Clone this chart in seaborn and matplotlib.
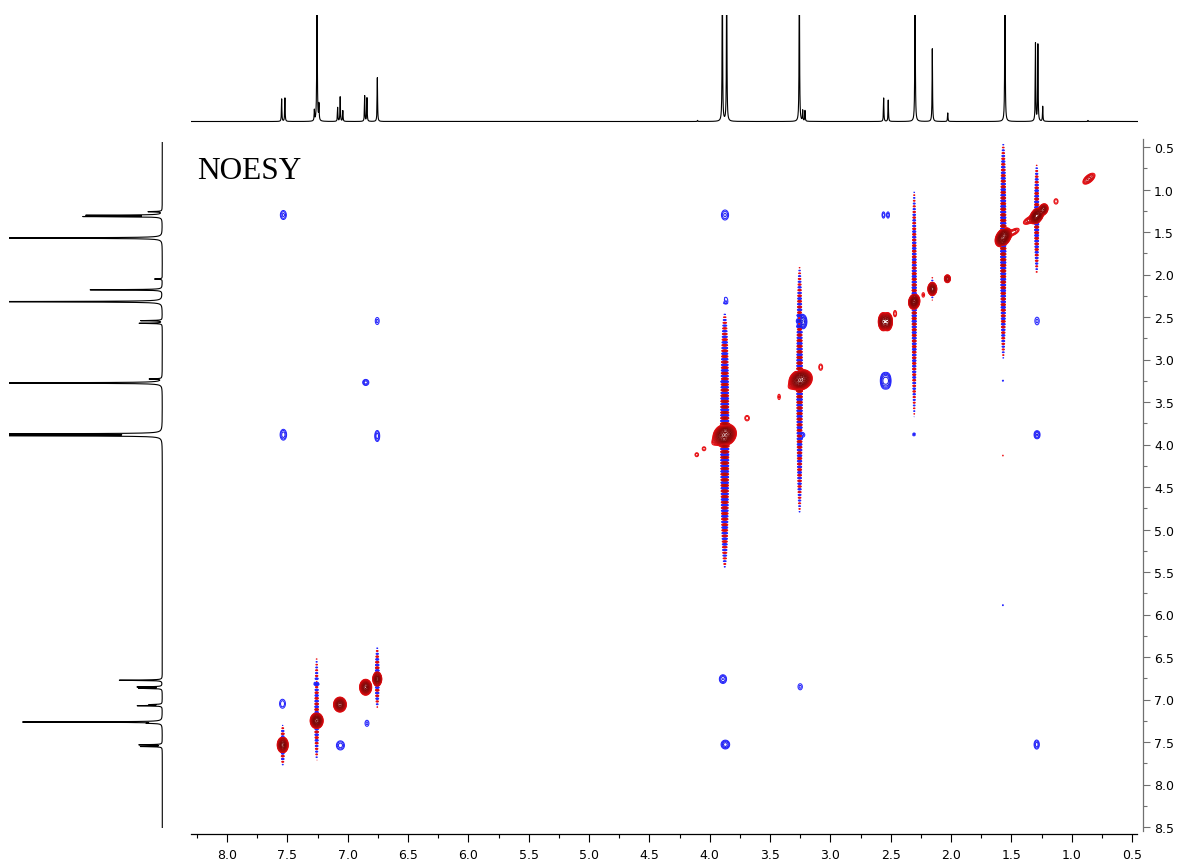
import numpy as np
import matplotlib
matplotlib.use("Agg")
import matplotlib.pyplot as plt
from matplotlib.ticker import MultipleLocator
import seaborn as sns

# ---------------- data ----------------
# 1D projection on top (F2): peak positions (ppm) and relative heights
top_ppm = [7.547, 7.520, 7.276, 7.254, 7.238, 7.083, 7.062, 7.040, 6.859, 6.840,
           6.754, 4.100, 3.895, 3.859, 3.257, 3.229, 3.210, 2.558, 2.520, 2.298,
           2.155, 2.027, 1.553, 1.300, 1.280, 1.240, 0.865]
top_height = [0.21, 0.22, 0.10, 1.60, 0.15, 0.13, 0.23, 0.10, 0.24, 0.22,
              0.41, 0.01, 1.60, 1.60, 1.60, 0.10, 0.10, 0.22, 0.20, 1.60,
              0.68, 0.08, 1.60, 0.73, 0.72, 0.14, 0.01]

# 1D projection on the left (F1)
left_ppm = [1.261, 1.303, 1.318, 1.571, 2.053, 2.180, 2.320, 2.543, 2.574, 3.229,
            3.276, 3.876, 3.896, 6.773, 6.852, 6.868, 7.060, 7.073, 7.265, 7.280,
            7.533, 7.553]
left_height = [0.09, 0.48, 0.50, 1.60, 0.05, 0.47, 1.60, 0.14, 0.15, 0.08,
               1.60, 1.60, 1.60, 0.28, 0.16, 0.15, 0.08, 0.16, 0.91, 0.07,
               0.15, 0.14]

# 2D diagonal / positive (red) peaks: F2, F1, amplitude, widths, tilt
diag_x = [7.538, 7.257, 7.064, 6.851, 6.755, 3.875, 3.246, 2.562, 2.526, 2.305,
          2.155, 2.030, 1.567, 1.290, 1.235, 0.857,
          4.107, 4.047, 3.690, 3.425, 3.080, 2.464, 2.230, 1.480, 1.350, 1.130,
          1.570, 3.940, 3.310]
diag_y = [7.535, 7.250, 7.060, 6.856, 6.759, 3.888, 3.240, 2.555, 2.555, 2.320,
          2.170, 2.050, 1.562, 1.310, 1.235, 0.873,
          4.120, 4.050, 3.690, 3.440, 3.090, 2.460, 2.240, 1.500, 1.360, 1.140,
          4.130, 3.950, 3.300]
diag_amp = [1.5, 2.5, 1.5, 1.5, 1.5, 3.5, 3.5, 1.3, 1.3, 2.5,
            1.2, 0.30, 3.5, 3.0, 1.0, 0.10,
            0.035, 0.035, 0.035, 0.030, 0.035, 0.035, 0.030, 0.06, 0.08, 0.035,
            0.025, 0.05, 0.04]
diag_sx = [0.0155, 0.0173, 0.018, 0.017, 0.0127, 0.030, 0.030, 0.014, 0.014, 0.0150,
           0.013, 0.0107, 0.021, 0.018, 0.014, 0.028,
           0.014, 0.014, 0.018, 0.012, 0.015, 0.012, 0.012, 0.030, 0.030, 0.016,
           0.005, 0.030, 0.030]
diag_sy = [0.032, 0.030, 0.030, 0.032, 0.028, 0.041, 0.038, 0.037, 0.037, 0.029,
           0.027, 0.020, 0.035, 0.030, 0.024, 0.036,
           0.022, 0.022, 0.030, 0.035, 0.035, 0.035, 0.030, 0.030, 0.030, 0.030,
           0.008, 0.040, 0.035]
diag_rho = [0.0, 0.0, 0.0, 0.0, 0.0, 0.15, 0.15, 0.0, 0.0, 0.1,
            0.0, 0.0, 0.35, 0.35, 0.2, 0.6,
            0.0, 0.0, 0.0, 0.0, 0.0, 0.0, 0.0, 0.6, 0.6, 0.0,
            0.0, 0.5, 0.5]

# 2D NOE cross peaks (negative, blue)
cross_x = [7.533, 7.533, 6.755, 6.850, 6.755, 3.873, 3.865, 3.252, 3.222, 3.880,
           3.230, 2.560, 2.522, 2.558, 2.525, 2.307, 1.287, 1.287, 1.287, 1.570,
           1.570, 3.890, 3.250, 3.870, 1.290, 7.540, 7.060, 6.840, 7.260]
cross_y = [1.300, 3.885, 2.547, 3.270, 3.900, 1.300, 2.310, 2.555, 2.555, 3.250,
           3.888, 1.300, 1.300, 3.250, 3.250, 3.888, 2.547, 3.865, 3.905, 3.250,
           5.890, 6.760, 6.850, 7.530, 7.530, 7.050, 7.540, 7.280, 6.810]
cross_amp = [-0.040, -0.045, -0.030, -0.045, -0.045, -0.040, -0.030, -0.065, -0.065, -0.030,
             -0.030, -0.035, -0.035, -0.065, -0.065, -0.028, -0.030, -0.035, -0.035, -0.025,
             -0.025, -0.050, -0.030, -0.060, -0.045, -0.035, -0.045, -0.030, -0.030]
cross_sx = [0.021, 0.021, 0.018, 0.020, 0.016, 0.025, 0.018, 0.018, 0.018, 0.015,
            0.020, 0.011, 0.011, 0.018, 0.018, 0.012, 0.020, 0.018, 0.018, 0.006,
            0.006, 0.022, 0.020, 0.024, 0.017, 0.023, 0.026, 0.018, 0.020]
cross_sy = [0.045, 0.050, 0.046, 0.028, 0.051, 0.050, 0.039, 0.050, 0.050, 0.025,
            0.030, 0.035, 0.035, 0.058, 0.058, 0.020, 0.050, 0.025, 0.025, 0.010,
            0.010, 0.038, 0.040, 0.035, 0.042, 0.050, 0.042, 0.040, 0.030]

# t1-noise streaks: column, centre, visible top/bottom, strength, width
streak_x = [7.538, 7.257, 6.755, 3.875, 3.255, 2.305, 1.567, 1.290, 2.155]
streak_yc = [7.535, 7.250, 6.759, 3.888, 3.240, 2.320, 1.562, 1.310, 2.170]
streak_top = [7.30, 6.50, 6.38, 2.45, 1.90, 1.00, 0.45, 0.70, 2.02]
streak_bot = [7.78, 7.72, 7.10, 5.45, 4.82, 3.68, 3.00, 2.00, 2.31]
streak_amp = [0.10, 0.10, 0.12, 0.30, 0.20, 0.15, 0.25, 0.15, 0.05]
streak_sx = [0.009, 0.009, 0.009, 0.015, 0.011, 0.009, 0.010, 0.009, 0.007]

x_ticks = [8.0, 7.5, 7.0, 6.5, 6.0, 5.5, 5.0, 4.5, 4.0, 3.5, 3.0, 2.5, 2.0, 1.5, 1.0, 0.5]
y_ticks = [0.5, 1.0, 1.5, 2.0, 2.5, 3.0, 3.5, 4.0, 4.5, 5.0, 5.5, 6.0, 6.5, 7.0, 7.5, 8.0, 8.5]

# ---------------- figure ----------------
sns.set_style("white")
plt.rcParams['font.family'] = ['DejaVu Sans']
plt.rcParams['text.color'] = 'black'

W, H = 1181, 862
fig = plt.figure(figsize=(W / 100, H / 100), dpi=100)


def rect(l, t, r, b):
    return [l / W, 1 - b / H, (r - l) / W, (b - t) / H]


def xppm(px):
    return 8.0 - (px - 227) / 120.67


def yppm(py):
    return 0.5 + (py - 148) / 85.0


ax = fig.add_axes(rect(191, 137, 1143, 835))
ax_top = fig.add_axes(rect(191, 15.5, 1138, 126))
ax_left = fig.add_axes(rect(9, 143, 166, 829))

# ---- 1D spectra (Lorentzian lines) ----
hw = 0.0022
xs = np.linspace(0.3, 8.4, 26000)
spec_t = np.zeros_like(xs)
for p, h in zip(top_ppm, top_height):
    spec_t += h * hw ** 2 / ((xs - p) ** 2 + hw ** 2)
sns.lineplot(x=xs, y=spec_t, ax=ax_top, color='black', linewidth=0.8,
             sort=False, estimator=None)
ax_top.set_xlim(xppm(191), xppm(1138))
ax_top.set_ylim(-3.5 / 107, 1.0)
ax_top.axis('off')

ys = np.linspace(0.3, 8.6, 20000)
spec_l = np.zeros_like(ys)
hwl = 0.0030
for p, h in zip(left_ppm, left_height):
    spec_l += h * hwl ** 2 / ((ys - p) ** 2 + hwl ** 2)
sns.lineplot(x=spec_l, y=ys, ax=ax_left, color='black', linewidth=0.8,
             sort=False, estimator=None, orient='y')
ax_left.set_xlim(1.0, -3.7 / 153.3)
ax_left.set_ylim(yppm(829), yppm(143))
ax_left.axis('off')

# ---- 2D field ----
gx = np.arange(0.36, 8.34, 0.005)
gy = np.arange(0.33, 8.62, 0.0030)
Z = np.zeros((gy.size, gx.size))


def add_peak(x0, y0, a, sx, sy, rho=0.0):
    ix = np.where(np.abs(gx - x0) < 6 * sx)[0]
    iy = np.where(np.abs(gy - y0) < 6 * sy)[0]
    if ix.size == 0 or iy.size == 0:
        return
    DX, DY = np.meshgrid((gx[ix] - x0) / sx, (gy[iy] - y0) / sy)
    q = (DX ** 2 - 2 * rho * DX * DY + DY ** 2) / (2 * (1 - rho ** 2))
    Z[iy[0]:iy[-1] + 1, ix[0]:ix[-1] + 1] += a * np.exp(-q)


L0 = 0.02
factor = 1.35
nlev = 18
period = 0.066
pw = 1.5


def add_streak(x0, yc, ytop, ybot, a, sx):
    frac = 1 - (L0 / a) ** (1 / pw)
    Lt = (yc - ytop) / frac
    Lb = (ybot - yc) / frac
    iy = np.where((gy > yc - Lt) & (gy < yc + Lb))[0]
    ix = np.where(np.abs(gx - x0) < 6 * sx)[0]
    dy = gy[iy] - yc
    L = np.where(dy < 0, Lt, Lb)
    u = np.clip(np.abs(dy) / L, 0, 1)
    c = np.cos(2 * np.pi * dy / period)
    env = a * (1 - u) ** pw * np.sign(c) * np.abs(c) ** 3
    gxx = np.exp(-0.5 * ((gx[ix] - x0) / sx) ** 2)
    Z[iy[0]:iy[-1] + 1, ix[0]:ix[-1] + 1] += np.outer(env, gxx)


for i in range(len(diag_x)):
    add_peak(diag_x[i], diag_y[i], diag_amp[i], diag_sx[i], diag_sy[i], diag_rho[i])
for i in range(len(cross_x)):
    add_peak(cross_x[i], cross_y[i], cross_amp[i], cross_sx[i], cross_sy[i])
for i in range(len(streak_x)):
    add_streak(streak_x[i], streak_yc[i], streak_top[i], streak_bot[i],
               streak_amp[i], streak_sx[i])

levels = L0 * factor ** np.arange(nlev)
t = np.clip(np.linspace(0, 1.3, nlev), 0, 1)
red_lo, red_hi = np.array([0.93, 0.06, 0.08]), np.array([0.48, 0.02, 0.02])
blu_lo, blu_hi = np.array([0.15, 0.15, 1.0]), np.array([0.05, 0.05, 0.60])
pos_colors = [tuple(red_lo + (red_hi - red_lo) * v) for v in t]
neg_colors = [tuple(blu_lo + (blu_hi - blu_lo) * v) for v in t]

ax.contour(gx, gy, Z, levels=-levels[::-1], colors=neg_colors[::-1],
           linewidths=0.75, linestyles='solid')
ax.contour(gx, gy, Z, levels=levels, colors=pos_colors,
           linewidths=0.75, linestyles='solid')

ax.set_xlim(xppm(191), xppm(1143))
ax.set_ylim(yppm(835), yppm(137))
ax.set_facecolor('white')
ax.spines['top'].set_visible(False)
ax.spines['left'].set_visible(False)
ax.spines['bottom'].set_color('black')
ax.spines['bottom'].set_linewidth(0.9)
ax.spines['right'].set_color('#707070')
ax.spines['right'].set_linewidth(0.9)
ax.spines['bottom'].set_bounds(xppm(191), xppm(1137))
ax.spines['right'].set_bounds(yppm(832), yppm(140))

ax.yaxis.tick_right()
ax.set_xticks(x_ticks)
ax.set_xticklabels([f"{v:.1f}" for v in x_ticks])
ax.set_yticks(y_ticks)
ax.set_yticklabels([f"{v:.1f}" for v in y_ticks])
ax.xaxis.set_minor_locator(MultipleLocator(0.25))
ax.yaxis.set_minor_locator(MultipleLocator(0.25))
ax.tick_params(axis='x', which='major', length=6, width=0.8, direction='out',
               labelsize=9, pad=4, colors='black', bottom=True)
ax.tick_params(axis='x', which='minor', length=3, width=0.8, direction='out',
               colors='black', bottom=True)
ax.tick_params(axis='y', which='major', length=5, width=0.8, direction='out',
               labelsize=9, pad=3, color='#707070', labelcolor='black',
               right=True, left=False)
ax.tick_params(axis='y', which='minor', length=3, width=0.8, direction='out',
               color='#707070', right=True, left=False)
ax.grid(False)

fig.text(197 / W, 1 - 179 / H, 'NOESY', fontsize=22.5, color='black',
         family=['Liberation Serif', 'DejaVu Serif'], ha='left', va='baseline')

fig.savefig('out.png', dpi=100, facecolor='white')
